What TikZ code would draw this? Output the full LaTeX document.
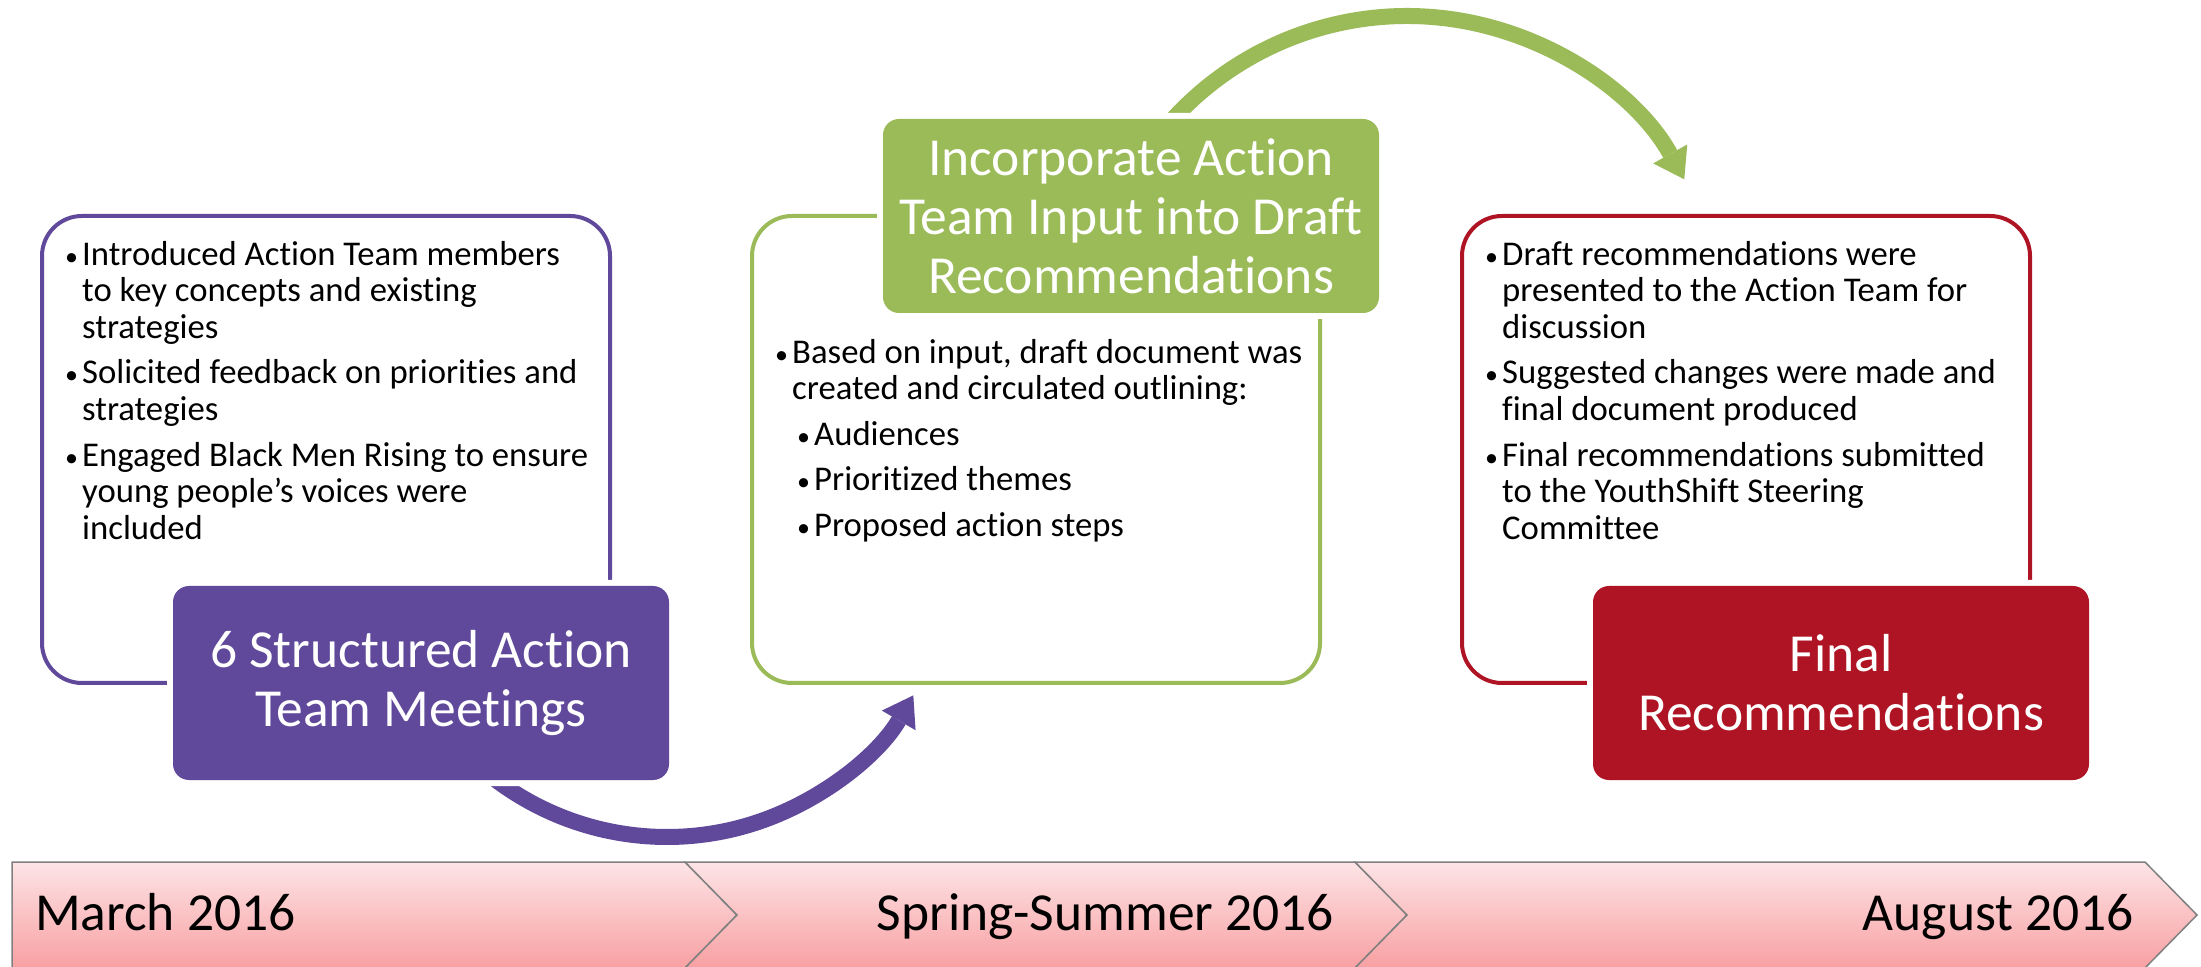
\documentclass[tikz,border=0pt]{standalone}
\usepackage{fontspec}
\setmainfont{Carlito}[Ligatures=NoCommon]
\usetikzlibrary{arrows.meta}

\definecolor{purp}{RGB}{96,73,155}
\definecolor{grn}{RGB}{155,187,89}
\definecolor{crim}{RGB}{175,20,36}
\definecolor{bandtop}{RGB}{253,228,230}
\definecolor{bandbot}{RGB}{248,160,162}
\definecolor{bandline}{RGB}{128,128,128}

% bullet at the start of a line, and the indent of the lines after it
\newcommand\bl{\strut\makebox[8.6pt][l]{\fontsize{13}{13}\selectfont•}}
\newcommand\cl{\hspace*{8.6pt}}
\newcommand\sbl{\hspace*{11pt}\bl}

\tikzset{every node/.style={inner sep=0pt,outer sep=0pt},
  panel/.style={draw=#1,line width=2pt,rounded corners=20pt,minimum width=284pt,minimum height=233.5pt},
  head/.style={fill=#1,text=white,rounded corners=8pt,minimum width=248pt,minimum height=97pt,
    align=center,font=\fontsize{26.75}{29.5}\selectfont,preaction={draw=white,line width=6pt}},
  list/.style={anchor=north west,align=left,font=\fontsize{17.35}{18.3}\selectfont},
  bendarrow/.style={draw=#1,line width=8pt,-{Triangle[width=19.5pt,length=14.5pt,line width=0pt]}},
  band/.style={draw=bandline,line width=0.75pt,top color=bandtop,bottom color=bandbot},
  stamp/.style={font=\fontsize{26.75}{30}\selectfont}}

\begin{document}
\begin{tikzpicture}[x=0.5pt,y=-0.5pt]
\path[use as bounding box,clip] (0,0) rectangle (2201,967);

      \node[panel=purp] (p1) at (326,449.5) {};
      \node[panel=grn]  (p2) at (1036,449.5) {};
      \node[panel=crim] (p3) at (1746,449.5) {};

      \coordinate (c1) at (667,552);
      \coordinate (c2) at (1407,333);
      \draw[bendarrow=purp] (c1) ++(130:285) arc[start angle=130,end angle=30.2,radius=285];
      \draw[bendarrow=grn]  (c2) ++(220:317) arc[start angle=220,end angle=331,radius=317];

      \node[head=purp] (h1) at (421,683) {6 Structured Action\\Team Meetings};
      \node[head=grn]  (h2) at (1131,216) {Incorporate Action\\Team Input into Draft\\Recommendations};
      \node[head=crim] (h3) at (1841,683) {Final\\Recommendations};

      \node[list] (l1) at (65,239.5) {%
        \bl Introduced Action Team members\\ \cl to key concepts and existing\\ \cl strategies\\[4.5pt]
        \bl Solicited feedback on priorities and\\ \cl strategies\\[4.5pt]
        \bl Engaged Black Men Rising to ensure\\ \cl young people’s voices were\\ \cl included};
      \node[list] (l2) at (775,337.5) {%
        \bl Based on input, draft document was\\ \cl created and circulated outlining:\\[4.5pt]
        \sbl Audiences\\[4.5pt]
        \sbl Prioritized themes\\[4.5pt]
        \sbl Proposed action steps};
      \node[list] (l3) at (1485,239.5) {%
        \bl Draft recommendations were\\ \cl presented to the Action Team for\\ \cl discussion\\[4.5pt]
        \bl Suggested changes were made and\\ \cl final document produced\\[4.5pt]
        \bl Final recommendations submitted\\ \cl to the YouthShift Steering\\ \cl Committee};

\draw[band] (12,862) -- (685,862) -- (737,915) -- (685,968) -- (12,968) -- cycle;
\foreach \a/\b in {685/1355,1355/2145}
  \draw[band] (\a,862) -- (\b,862) -- (\b+52,915) -- (\b,968) -- (\a,968) -- (\a+52,915) -- cycle;

      \node[stamp,anchor=base west] (d1) at (35,930) {March 2016};
      \node[stamp,anchor=base east] (d2) at (1334,930) {Spring-Summer 2016};
      \node[stamp,anchor=base east] (d3) at (2134,930) {August 2016};
\end{tikzpicture}
\end{document}
